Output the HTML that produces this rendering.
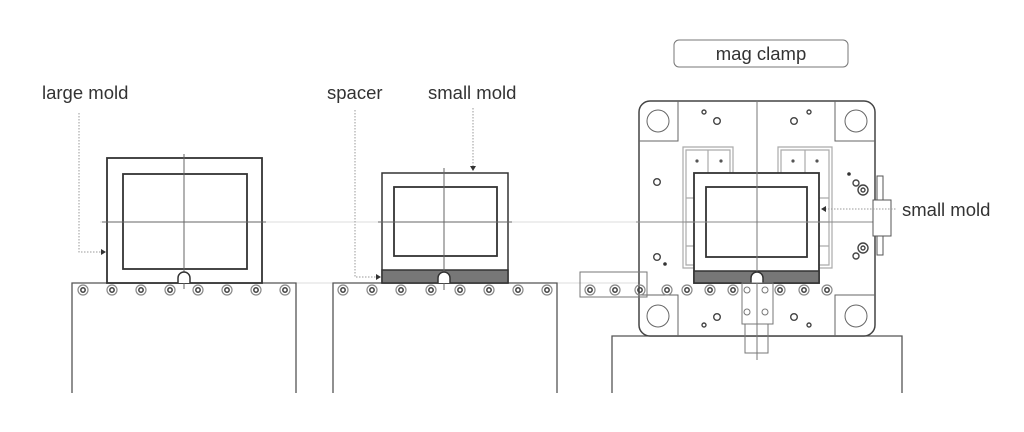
<!DOCTYPE html>
<html><head><meta charset="utf-8"><style>
html,body{margin:0;padding:0;background:#fff;width:1024px;height:432px;overflow:hidden}
text{font-family:"Liberation Sans",sans-serif;fill:#333}
</style></head><body>
<svg width="1024" height="432" viewBox="0 0 1024 432" xmlns="http://www.w3.org/2000/svg">
<defs>
<g id="r"><circle r="5" fill="none" stroke="#888" stroke-width="1.2"/><circle r="2.2" fill="none" stroke="#444" stroke-width="1.5"/></g>
</defs>
<!-- faint lines -->
<line x1="100" y1="222" x2="877" y2="222" stroke="#ddd" stroke-width="1"/>
<line x1="262" y1="283" x2="382" y2="283" stroke="#ddd"/>
<line x1="508" y1="283" x2="640" y2="283" stroke="#ddd"/>

<!-- LEFT -->
<text x="42" y="99" font-size="18.5">large mold</text>
<polyline points="79,113 79,252 102,252" fill="none" stroke="#999" stroke-dasharray="1.5,1.5"/>
<path d="M101,249 L106,252 L101,255Z" fill="#333"/>
<path d="M72,393 V283 H296 V393" fill="none" stroke="#555" stroke-width="1.3"/>
<rect x="107" y="158" width="155" height="125" fill="#fff" stroke="#333" stroke-width="1.8"/>
<rect x="123" y="174" width="124" height="95" fill="none" stroke="#333" stroke-width="1.8"/>
<line x1="102" y1="222" x2="266" y2="222" stroke="#666"/>
<line x1="184" y1="154" x2="184" y2="289" stroke="#666"/>
<path d="M178,283 V278 A6,6 0 0 1 190,278 V283" fill="#fff" stroke="#333" stroke-width="1.5"/>
<g transform="translate(0,290)">
<use href="#r" x="83"/><use href="#r" x="112"/><use href="#r" x="141"/><use href="#r" x="170"/><use href="#r" x="198"/><use href="#r" x="227"/><use href="#r" x="256"/><use href="#r" x="285"/>
</g>

<!-- MIDDLE -->
<text x="327" y="99" font-size="18.5">spacer</text>
<text x="428" y="99" font-size="18.5">small mold</text>
<polyline points="355,110 355,277 377,277" fill="none" stroke="#999" stroke-dasharray="1.5,1.5"/>
<path d="M376,274 L381,277 L376,280Z" fill="#333"/>
<line x1="473" y1="108" x2="473" y2="166" stroke="#999" stroke-dasharray="1.5,1.5"/>
<path d="M470,166 L473,171 L476,166Z" fill="#333"/>
<path d="M333,393 V283 H557 V393" fill="none" stroke="#555" stroke-width="1.3"/>
<rect x="382" y="173" width="126" height="110" fill="#fff" stroke="#333" stroke-width="1.5"/>
<rect x="382" y="270" width="126" height="13" fill="#777" stroke="#333" stroke-width="1.5"/>
<rect x="394" y="187" width="103" height="69" fill="none" stroke="#333" stroke-width="1.8"/>
<line x1="378" y1="222" x2="512" y2="222" stroke="#666"/>
<line x1="444" y1="168" x2="444" y2="290" stroke="#666"/>
<path d="M438,283 V278 A6,6 0 0 1 450,278 V283" fill="#fff" stroke="#333" stroke-width="1.5"/>
<g transform="translate(0,290)">
<use href="#r" x="343"/><use href="#r" x="372"/><use href="#r" x="401"/><use href="#r" x="431"/><use href="#r" x="460"/><use href="#r" x="489"/><use href="#r" x="518"/><use href="#r" x="547"/>
</g>

<!-- RIGHT -->
<rect x="674" y="40" width="174" height="27" rx="5" fill="#fff" stroke="#777"/>
<text x="761" y="60" font-size="18.5" text-anchor="middle">mag clamp</text>
<path d="M612,393 V336 H902 V393" fill="none" stroke="#555" stroke-width="1.3"/>
<rect x="639" y="101" width="236" height="235" rx="11" fill="#fff" stroke="#444" stroke-width="1.5"/>
<g fill="none" stroke="#666">
<path d="M639,141 H678 V101"/><path d="M875,141 H835 V101"/>
<path d="M639,295 H678 V336"/><path d="M875,295 H835 V336"/>
<circle cx="658" cy="121" r="11"/><circle cx="856" cy="121" r="11"/>
<circle cx="658" cy="316" r="11"/><circle cx="856" cy="316" r="11"/>
</g>
<g fill="none" stroke="#444" stroke-width="1.4">
<circle cx="704" cy="112" r="2"/><circle cx="717" cy="121" r="3.3"/><circle cx="794" cy="121" r="3.3"/><circle cx="809" cy="112" r="2"/>
<circle cx="657" cy="182" r="3.3"/><circle cx="657" cy="257" r="3.3"/>
<circle cx="717" cy="317" r="3.3"/><circle cx="704" cy="325" r="2"/><circle cx="794" cy="317" r="3.3"/><circle cx="809" cy="325" r="2"/>
<circle cx="856" cy="183" r="3"/><circle cx="863" cy="190" r="5"/><circle cx="863" cy="190" r="2"/>
<circle cx="856" cy="256" r="3"/><circle cx="863" cy="248" r="5"/><circle cx="863" cy="248" r="2"/>
</g>
<circle cx="665" cy="264" r="1.8" fill="#333"/><circle cx="849" cy="174" r="1.8" fill="#333"/>
<!-- bracket -->
<g fill="none" stroke="#aaa" stroke-width="1.2">
<path d="M694,268 H683 V147 H733 V173"/><path d="M778,173 V147 H832 V268 H819"/>
<path d="M694,265 H686 V150 H730 V173"/><path d="M781,173 V150 H829 V265 H819"/>
<line x1="708" y1="150" x2="708" y2="173"/><line x1="805" y1="150" x2="805" y2="173"/>
<path d="M686,198 H694 M686,222 H694 M686,246 H694 M819,198 H829 M819,222 H829 M819,246 H829"/>
</g>
<g fill="#555"><circle cx="697" cy="161" r="1.6"/><circle cx="721" cy="161" r="1.6"/><circle cx="793" cy="161" r="1.6"/><circle cx="817" cy="161" r="1.6"/></g>
<!-- mold -->
<rect x="694" y="173" width="125" height="110" fill="#fff" stroke="#333" stroke-width="1.8"/>
<rect x="694" y="271" width="125" height="12" fill="#777" stroke="#333" stroke-width="1.5"/>
<rect x="706" y="187" width="101" height="70" fill="none" stroke="#333" stroke-width="1.8"/>
<line x1="636" y1="222" x2="877" y2="222" stroke="#888"/>
<line x1="757" y1="100" x2="757" y2="360" stroke="#777"/>
<path d="M751,283 V278 A6,6 0 0 1 763,278 V283" fill="#fff" stroke="#333" stroke-width="1.5"/>
<g fill="none" stroke="#777">
<rect x="742" y="283" width="31" height="41"/><rect x="745" y="324" width="23" height="29"/>
<circle cx="747" cy="312" r="3"/><circle cx="765" cy="312" r="3"/><circle cx="747" cy="290" r="3"/><circle cx="765" cy="290" r="3"/>
</g>
<rect x="580" y="272" width="67" height="25" fill="none" stroke="#777"/>
<g transform="translate(0,290)">
<use href="#r" x="590"/><use href="#r" x="615"/><use href="#r" x="640"/><use href="#r" x="667"/><use href="#r" x="687"/><use href="#r" x="710"/><use href="#r" x="733"/><use href="#r" x="780"/><use href="#r" x="804"/><use href="#r" x="827"/>
</g>
<g fill="#fff" stroke="#555">
<rect x="877" y="176" width="6" height="24"/><rect x="877" y="236" width="6" height="19"/>
<rect x="873" y="200" width="18" height="36"/>
</g>
<text x="902" y="216" font-size="18.5">small mold</text>
<line x1="825" y1="209" x2="897" y2="209" stroke="#999" stroke-dasharray="1.5,1.5"/>
<path d="M826,206 L821,209 L826,212Z" fill="#333"/>
</svg>
</body></html>
